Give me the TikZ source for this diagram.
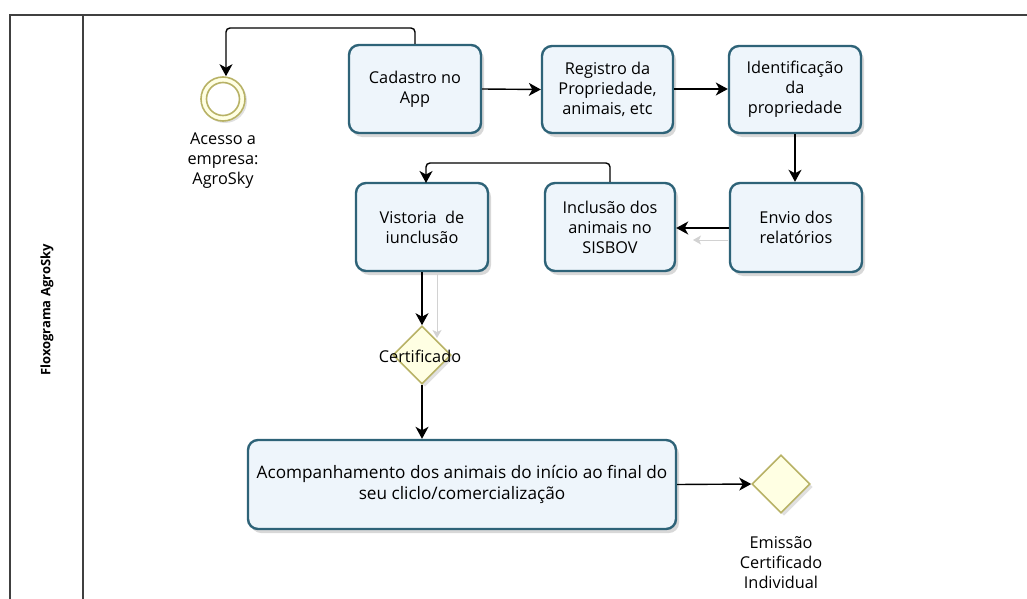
\documentclass[tikz,border=0pt]{standalone}
\usepackage{fontspec}
\setmainfont{Open Sans}
\usetikzlibrary{arrows.meta,shapes.geometric,shadows,calc}
\definecolor{boxborder}{HTML}{2E6378}
\definecolor{boxfill}{HTML}{EEF5FB}
\definecolor{evborder}{HTML}{B8B266}
\definecolor{evfill}{HTML}{FFFFE3}
\tikzset{
  x=1pt, y=-1pt,
  task/.style={draw=boxborder, line width=2.4pt, rounded corners=10pt, fill=boxfill,
    align=center, inner sep=0pt, font=\fontsize{16.3}{20}\selectfont,
    drop shadow={shadow xshift=3pt, shadow yshift=-4pt, fill=gray!60, opacity=0.5}},
  gate/.style={diamond, draw=evborder, line width=1.6pt, fill=evfill, minimum width=58pt, minimum height=58pt, inner sep=0pt,
    drop shadow={shadow xshift=3pt, shadow yshift=-3pt, fill=gray!60, opacity=0.4}},
  lbl/.style={align=center, font=\fontsize{16.3}{20}\selectfont, inner sep=0pt},
  flow/.style={draw=black, line width=1.4pt, rounded corners=4pt, -{Stealth[length=12pt,width=13pt,inset=3.5pt]}},
  ghost/.style={draw=gray!35, line width=1pt, -{Stealth[length=8pt,width=9pt,inset=2pt]}},
  frame/.style={draw=black!75, line width=1.8pt}
}
\begin{document}
\begin{tikzpicture}
\useasboundingbox (0,0) rectangle (1027,599);
% pool frame
\draw[frame] (10,610) -- (10,15) -- (1030,15);
\draw[frame] (83,15) -- (83,610);
\node[rotate=90, font=\bfseries\fontsize{13}{15}\selectfont] (title) at (47,310) {Floxograma AgroSky};

% start event
\node[circle, draw=evborder, line width=1.6pt, minimum size=44pt, fill=evfill,
  drop shadow={shadow xshift=2pt, shadow yshift=-2pt, fill=gray!60, opacity=0.4}] (start) at (223,99) {};
\node[circle, draw=evborder, line width=1.6pt, minimum size=33pt, fill=white] (startin) at (223,99) {};
\node[lbl] (startlbl) at (223,161) {Acesso a\\empresa:\\AgroSky};

% tasks
\node[task, minimum width=132pt, minimum height=88pt] (cad) at (415,89) {Cadastro no\\App};
\node[task, minimum width=131pt, minimum height=87pt] (reg) at (607.5,89.5) {Registro da\\Propriedade,\\animais, etc};
\node[task, minimum width=132pt, minimum height=87pt] (ide) at (795,89.5) {Identificação\\da\\propriedade};
\node[task, minimum width=132pt, minimum height=89pt] (env) at (796,227.5) {Envio dos\\relatórios};
\node[task, minimum width=130pt, minimum height=88pt] (inc) at (610,227) {Inclusão dos\\animais no\\SISBOV};
\node[task, minimum width=132pt, minimum height=88pt] (vis) at (422,227) {Vistoria\ \ de\\iunclusão};
\node[task, minimum width=428pt, minimum height=89pt, font=\fontsize{17.2}{21}\selectfont] (aco) at (462,484.5) {Acompanhamento dos animais do início ao final do\\seu cliclo/comercialização};

% gateways
\node[gate] (cert) at (422,355) {};
\node[lbl] (certlbl) at (420,356) {Certificado};
\node[gate] (emi) at (781,484) {};
\node[lbl] (emilbl) at (781,563) {Emissão\\Certificado\\Individual};

% connectors
\draw[flow] (cad.north) -- (415,28) -- (226,28) -- (start.north -| 226,0);
\draw[flow] (cad.east) -- (reg.west);
\draw[flow] ($(reg.east)+(0,-0.5)$) -- ($(ide.west)+(0,-0.5)$);
\draw[flow] (ide.south) -- (ide.south |- env.north);
\draw[flow] ($(env.west)+(0,0.5)$) -- ($(env.west -| inc.east)+(0,0.5)$);
\draw[flow] (inc.north) -- (610,163) -- (426,163) -- (426,183);
\draw[flow] (vis.south) -- (cert.north);
\draw[flow] (cert.south) -- (aco.north -| cert.south);
\draw[flow] (aco.east) -- (emi.west);

% faint ghost connectors
\coordinate (g1s) at (728,240);
\coordinate (g1e) at (693,240);
\draw[ghost] (g1s) -- (g1e);
\coordinate (g2s) at (437,274);
\coordinate (g2e) at (437,338);
\draw[ghost] (g2s) -- (g2e);
\end{tikzpicture}
\end{document}
